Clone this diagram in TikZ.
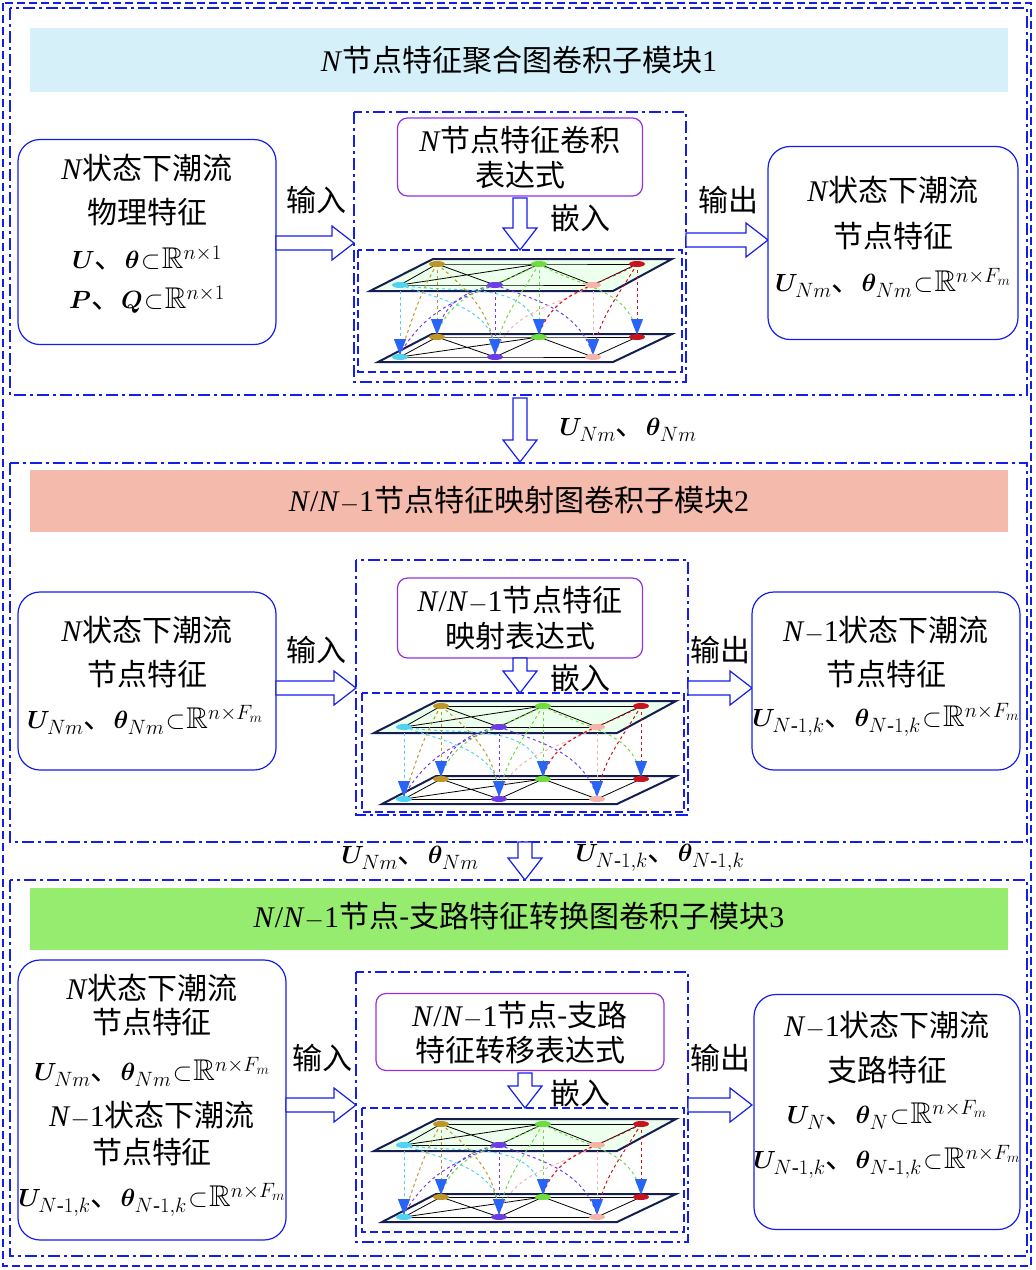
\documentclass[tikz,border=0pt]{standalone}
\usepackage{amsmath,amssymb,bm}
\usepackage{fontspec}
\setmainfont{Liberation Serif}
\newfontfamily\cjk{Noto Sans CJK SC}
\usetikzlibrary{arrows.meta}
\definecolor{bblue}{RGB}{20,30,235}
\definecolor{pur}{RGB}{150,50,220}
\definecolor{tcyan}{RGB}{214,240,250}
\definecolor{tsal}{RGB}{244,186,172}
\definecolor{tgrn}{RGB}{150,236,110}
\definecolor{gold}{RGB}{190,150,40}
\definecolor{gcyan}{RGB}{80,210,240}
\definecolor{ggrn}{RGB}{110,220,60}
\definecolor{gpur}{RGB}{110,60,230}
\definecolor{gpink}{RGB}{245,180,170}
\definecolor{gred}{RGB}{200,20,30}
\definecolor{plane}{RGB}{20,30,80}
\definecolor{tipc}{RGB}{40,100,245}
\newcommand{\zh}[1]{{\cjk #1}}
\newcommand{\Uv}{\bm{U}}
\newcommand{\Tv}{\bm{\theta}}
\newcommand{\iN}{\textit{N}}
\newcommand{\sub}{\mathbin{\!\subset\!}}
\tikzset{
 box/.style={draw=bblue,line width=1.2pt,rounded corners=22pt,fill=white},
 pbox/.style={draw=pur,line width=1.2pt,rounded corners=10pt,fill=white},
 frame/.style={draw=bblue,line width=1.2pt,dash pattern=on 12pt off 4pt on 3pt off 4pt},
 gframe/.style={draw=bblue,line width=1.2pt,dash pattern=on 8pt off 4pt},
 harrow/.style={draw=bblue,line width=1.2pt,fill=white},
 txt/.style={font=\fontsize{30}{34}\selectfont,align=center,inner sep=0pt},
 ttl/.style={font=\fontsize{30}{34}\selectfont,inner sep=0pt},
 tip/.style={-{Triangle[width=12pt,length=16pt,fill=tipc,color=tipc]}},
 gl/.style={dashed,line width=1pt},
}
\newcommand{\harr}[3]{\draw[harrow] (#1,#2-7)--(#3-22,#2-7)--(#3-22,#2-17)--(#3,#2)--(#3-22,#2+17)--(#3-22,#2+7)--(#1,#2+7)--cycle;}
\newcommand{\varr}[3]{\draw[harrow] (#1-7,#2)--(#1-7,#3-22)--(#1-17,#3-22)--(#1,#3)--(#1+17,#3-22)--(#1+7,#3-22)--(#1+7,#2)--cycle;}
\newcommand{\graphpic}[2]{%
\begin{scope}[shift={(#1,#2)}]
 \fill[green!10,opacity=.7] (75,9)--(314,9)--(255,41)--(12,41)--cycle;
 \draw[black,line width=.8pt] (79,14)--(181,14)--(279,14) (42,35)--(137,35)--(235,35);
 \draw[black,line width=.8pt] (42,35)--(79,14) (42,35)--(181,14) (79,14)--(137,35) (137,35)--(181,14) (181,14)--(235,35) (235,35)--(279,14);
 \draw[plane,line width=2pt] (75,9)--(314,9)--(255,41)--(12,41)--cycle;
 \draw[black,line width=.8pt] (79,87)--(181,87)--(279,87) (42,107)--(137,107)--(235,107);
 \draw[black,line width=.8pt] (42,107)--(79,87) (42,107)--(181,87) (79,87)--(137,107) (137,107)--(181,87) (181,87)--(235,107) (235,107)--(279,87);
 \draw[plane,line width=2pt] (74,84)--(314,84)--(255,112)--(20,112)--cycle;
 \draw[gcyan,gl] (42,35) to[out=-20,in=90] (137,104);
 \draw[gcyan,gl] (42,35) to[out=-10,in=100] (181,84);
 \draw[gold,gl] (79,14) to[out=-120,in=70] (42,104);
 \draw[gold,gl] (79,14) to[out=-40,in=95] (137,104);
 \draw[gpur,gl] (137,35) to[out=-160,in=60] (42,104);
 \draw[gpur,gl] (137,35) to[out=-20,in=110] (235,104);
 \draw[gpur,gl] (137,35) to[out=-170,in=80] (79,84);
 \draw[ggrn,gl] (181,14) to[out=-150,in=70] (79,84);
 \draw[ggrn,gl] (181,14) to[out=-120,in=80] (137,104);
 \draw[ggrn,gl] (181,14) to[out=-30,in=100] (279,84);
 \draw[gpink,gl] (235,35) to[out=-160,in=70] (181,84);
 \draw[gpink,gl] (235,35) to[out=-150,in=70] (137,104);
 \draw[gred,gl] (279,14) to[out=-120,in=80] (235,104);
 \draw[gred,gl] (279,14) to[out=-150,in=70] (181,84);
 \draw[gcyan,gl,tip] (42,35)--(42,105);
 \draw[gpur,gl,tip] (137,35)--(137,105);
 \draw[gpink,gl,tip] (235,35)--(235,105);
 \draw[gold,gl,tip] (79,14)--(79,85);
 \draw[ggrn,gl,tip] (181,14)--(181,85);
 \draw[gred,gl,tip] (279,14)--(279,85);
 \fill[gold] (79,14) ellipse (8 and 3); \fill[gold] (79,87) ellipse (8 and 3);
 \fill[ggrn] (181,14) ellipse (8 and 3); \fill[ggrn] (181,87) ellipse (8 and 3);
 \fill[gred] (279,14) ellipse (8 and 3); \fill[gred] (279,87) ellipse (8 and 3);
 \fill[gcyan] (42,35) ellipse (8 and 3); \fill[gcyan] (42,107) ellipse (8 and 3);
 \fill[gpur] (137,35) ellipse (8 and 3); \fill[gpur] (137,107) ellipse (8 and 3);
 \fill[gpink] (235,35) ellipse (8 and 3); \fill[gpink] (235,107) ellipse (8 and 3);
\end{scope}}
\begin{document}
\begin{tikzpicture}[x=1pt,y=-1pt]
\useasboundingbox (0,0) rectangle (1036,1270);
\draw[bblue,line width=1.2pt,dash pattern=on 8pt off 4pt] (3,3) rectangle (1031,1266);
% ===== module 1
\draw[frame] (10,8) rectangle (1027,395);
\fill[tcyan] (30,28) rectangle (1008,92);
\node[ttl] (t1) at (519,60) {\iN\zh{节点特征聚合图卷积子模块}1};
\node[box,minimum width=258pt,minimum height=205pt] (l1) at (147,242) {};
\node[txt] at (147,168) {\iN\zh{状态下潮流}};
\node[txt] at (147,212) {\zh{物理特征}};
\node[txt] at (147,258) {$\Uv$\zh{、}$\Tv\sub\mathbb{R}^{n\times1}$};
\node[txt] at (147,300) {$\bm{P}$\zh{、}$\bm{Q}\sub\mathbb{R}^{n\times1}$};
\draw[frame] (354,112) rectangle (686,382);
\node[pbox,minimum width=245pt,minimum height=78pt] (p1) at (520,157) {};
\node[txt] at (520,140) {\iN\zh{节点特征卷积}};
\node[txt] at (520,175) {\zh{表达式}};
\varr{520}{198}{250}
\node[txt] at (580,218) {\zh{嵌入}};
\draw[gframe] (358,250) rectangle (682,372);
\graphpic{358}{250}
\harr{276}{243}{354}
\node[txt] at (316,200) {\zh{输入}};
\harr{686}{240}{768}
\node[txt] at (728,200) {\zh{输出}};
\node[box,minimum width=250pt,minimum height=193pt] (r1) at (893,243) {};
\node[txt] at (893,190) {\iN\zh{状态下潮流}};
\node[txt] at (893,236) {\zh{节点特征}};
\node[txt] at (893,283) {$\Uv_{Nm}$\zh{、}$\Tv_{Nm}\sub\mathbb{R}^{n\times F_m}$};
% between 1-2
\varr{520}{398}{462}
\node[txt] at (628,430) {$\Uv_{Nm}$\zh{、}$\Tv_{Nm}$};
% ===== module 2
\draw[frame] (10,463) rectangle (1027,842);
\fill[tsal] (30,470) rectangle (1008,532);
\node[ttl] (t2) at (519,500) {\iN/\iN$-$1\zh{节点特征映射图卷积子模块}2};
\node[box,minimum width=258pt,minimum height=178pt] (l2) at (147,681) {};
\node[txt] at (147,630) {\iN\zh{状态下潮流}};
\node[txt] at (147,674) {\zh{节点特征}};
\node[txt] at (145,720) {$\Uv_{Nm}$\zh{、}$\Tv_{Nm}\sub\mathbb{R}^{n\times F_m}$};
\draw[frame] (356,560) rectangle (688,815);
\node[pbox,minimum width=245pt,minimum height=80pt] (p2) at (520,618) {};
\node[txt] at (520,600) {\iN/\iN$-$1\zh{节点特征}};
\node[txt] at (520,636) {\zh{映射表达式}};
\varr{520}{658}{693}
\node[txt] at (580,678) {\zh{嵌入}};
\draw[gframe] (362,693) rectangle (684,812);
\graphpic{362}{692}
\harr{276}{688}{356}
\node[txt] at (316,650) {\zh{输入}};
\harr{688}{688}{752}
\node[txt] at (720,650) {\zh{输出}};
\node[box,minimum width=268pt,minimum height=178pt] (r2) at (886,681) {};
\node[txt] at (886,630) {\iN$-$1\zh{状态下潮流}};
\node[txt] at (886,674) {\zh{节点特征}};
\node[txt] at (886,720) {$\Uv_{N\text{-}1,k}$\zh{、}$\Tv_{N\text{-}1,k}\sub\mathbb{R}^{n\times F_m}$};
% between 2-3
\varr{525}{842}{880}
\node[txt] at (410,858) {$\Uv_{Nm}$\zh{、}$\Tv_{Nm}$};
\node[txt] at (660,858) {$\Uv_{N\text{-}1,k}$\zh{、}$\Tv_{N\text{-}1,k}$};
% ===== module 3
\draw[frame] (10,880) rectangle (1027,1256);
\fill[tgrn] (30,888) rectangle (1008,950);
\node[ttl] (t3) at (519,916) {\iN/\iN$-$1\zh{节点-支路特征转换图卷积子模块}3};
\node[box,minimum width=268pt,minimum height=280pt] (l3) at (152,1100) {};
\node[txt] at (152,988) {\iN\zh{状态下潮流}};
\node[txt] at (152,1022) {\zh{节点特征}};
\node[txt] at (152,1072) {$\Uv_{Nm}$\zh{、}$\Tv_{Nm}\sub\mathbb{R}^{n\times F_m}$};
\node[txt] at (152,1115) {\iN$-$1\zh{状态下潮流}};
\node[txt] at (152,1152) {\zh{节点特征}};
\node[txt] at (152,1200) {$\Uv_{N\text{-}1,k}$\zh{、}$\Tv_{N\text{-}1,k}\sub\mathbb{R}^{n\times F_m}$};
\draw[frame] (356,972) rectangle (688,1242);
\node[pbox,minimum width=288pt,minimum height=77pt] (p3) at (520,1032) {};
\node[txt] at (520,1015) {\iN/\iN$-$1\zh{节点-支路}};
\node[txt] at (520,1050) {\zh{特征转移表达式}};
\varr{525}{1073}{1108}
\node[txt] at (580,1093) {\zh{嵌入}};
\draw[gframe] (362,1108) rectangle (684,1232);
\graphpic{362}{1110}
\harr{286}{1105}{356}
\node[txt] at (322,1058) {\zh{输入}};
\harr{688}{1105}{752}
\node[txt] at (720,1058) {\zh{输出}};
\node[box,minimum width=266pt,minimum height=235pt] (r3) at (887,1112) {};
\node[txt] at (887,1025) {\iN$-$1\zh{状态下潮流}};
\node[txt] at (887,1070) {\zh{支路特征}};
\node[txt] at (887,1115) {$\Uv_{N}$\zh{、}$\Tv_{N}\sub\mathbb{R}^{n\times F_m}$};
\node[txt] at (887,1162) {$\Uv_{N\text{-}1,k}$\zh{、}$\Tv_{N\text{-}1,k}\sub\mathbb{R}^{n\times F_m}$};
\end{tikzpicture}
\end{document}
